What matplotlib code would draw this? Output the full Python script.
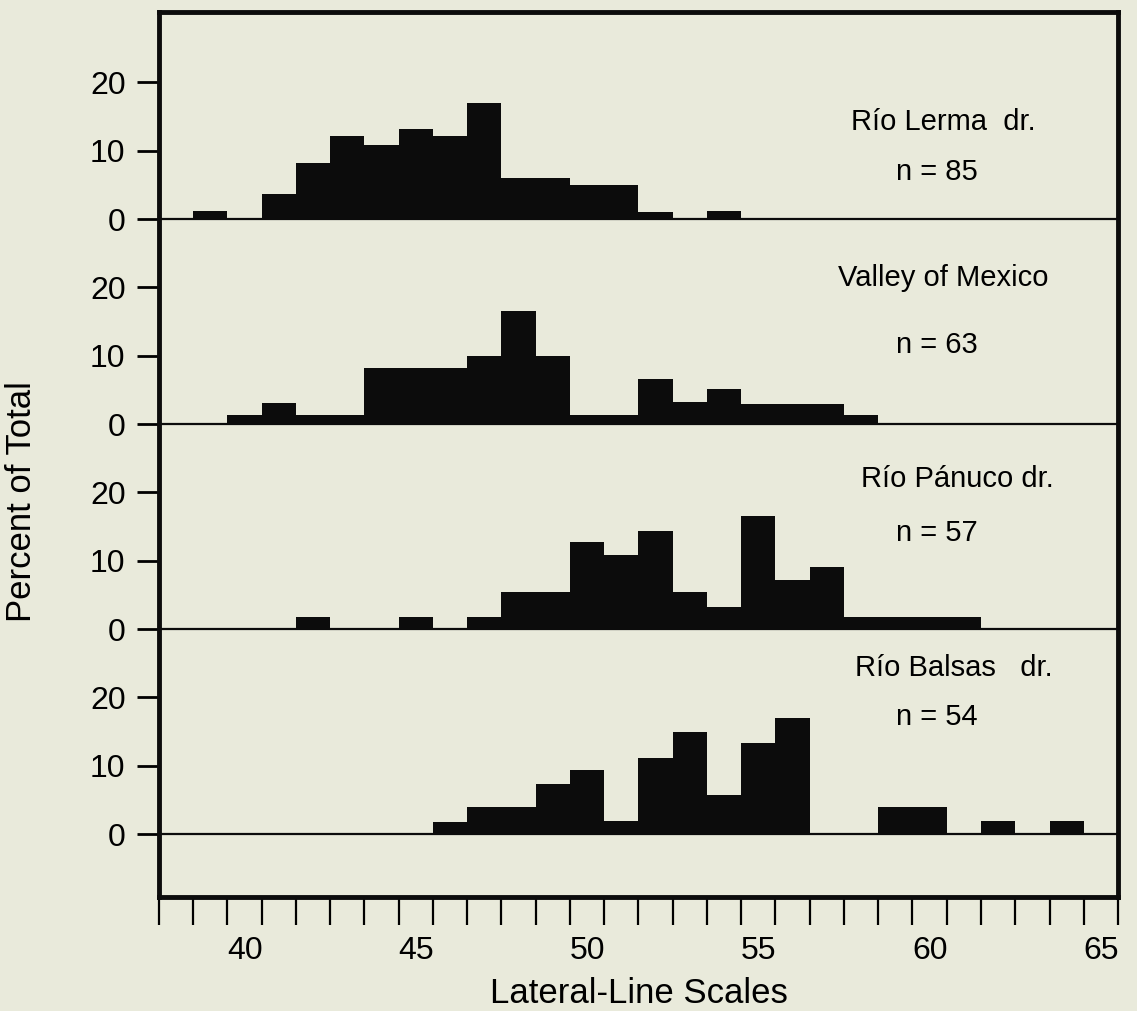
import matplotlib
matplotlib.use("Agg")
import numpy as np
import matplotlib.pyplot as plt

plt.rcParams['font.family'] = ['Liberation Sans', 'DejaVu Sans']

# -----------------------------
# Data (percent of total per lateral-line scale count)
# -----------------------------

lerma_scales = [39, 41, 42, 43, 44, 45, 46, 47, 48, 49, 50, 51, 52, 54]
lerma_pct = [1.2, 3.6, 8.2, 12.1, 10.8, 13.2, 12.1, 17.0, 6.0, 6.0, 5.0, 5.0, 1.0, 1.2]

valley_scales = [40, 41, 42, 43, 44, 45, 46, 47, 48, 49, 50, 51, 52, 53, 54, 55, 56, 57, 58]
valley_pct = [1.4, 3.1, 1.4, 1.4, 8.2, 8.2, 8.2, 10.0, 16.5, 10.0, 1.4, 1.4, 6.6, 3.2, 5.1, 3.0, 3.0, 3.0, 1.4]

panuco_scales = [42, 45, 47, 48, 49, 50, 51, 52, 53, 54, 55, 56, 57, 58, 59, 60, 61]
panuco_pct = [1.8, 1.8, 1.8, 5.4, 5.4, 12.7, 10.9, 14.4, 5.4, 3.2, 16.6, 7.2, 9.1, 1.8, 1.8, 1.8, 1.8]

balsas_scales = [46, 47, 48, 49, 50, 51, 52, 53, 54, 55, 56, 59, 60, 62, 64]
balsas_pct = [1.7, 3.9, 3.9, 7.4, 9.4, 1.9, 11.2, 15.0, 5.7, 13.3, 17.0, 4.0, 4.0, 1.9, 1.9]

panel_names = ["Río Lerma  dr.", "Valley of Mexico", "Río Pánuco dr.", "Río Balsas   dr."]
panel_n = ["n = 85", "n = 63", "n = 57", "n = 54"]

xtick_values = [40, 45, 50, 55, 60, 65]
ytick_labels = ["0", "10", "20"]

# -----------------------------
# Figure
# -----------------------------

bg = "#e9eadb"
fig = plt.figure(figsize=(11.37, 10.11), dpi=100, facecolor=bg)
ax = fig.add_axes([0.1398, 0.1128, 0.8435, 0.8753], facecolor=bg)

panels = [
    (lerma_scales, lerma_pct, 90),
    (valley_scales, valley_pct, 60),
    (panuco_scales, panuco_pct, 30),
    (balsas_scales, balsas_pct, 0),
]

for scales, pct, offset in panels:
    ax.bar(scales, pct, width=1.0, bottom=offset, color="#0c0c0c", linewidth=0)
    ax.axhline(offset, color="#0c0c0c", lw=1.6, zorder=3)

# panel text
name_pos = [(60.4, 104.2), (60.4, 81.4), (60.8, 51.9), (60.7, 24.3)]
n_pos = [(60.2, 96.9), (60.2, 71.6), (60.2, 44.0), (60.2, 17.2)]
for name, (x, y) in zip(panel_names, name_pos):
    ax.text(x, y, name, fontsize=21, ha="center", va="center")
for n, (x, y) in zip(panel_n, n_pos):
    ax.text(x, y, n, fontsize=21, ha="center", va="center")

ax.set_xlim(37.5, 65.5)
ax.set_ylim(-9.2, 120.3)

# x ticks: labels centered on bins, tick marks on bin edges
ax.set_xticks(xtick_values)
ax.set_xticklabels([str(v) for v in xtick_values], fontsize=23)
ax.set_xticks(np.arange(37.5, 65.6, 1.0), minor=True)
ax.tick_params(axis="x", which="major", length=0, pad=28)
ax.tick_params(axis="x", which="minor", length=20, width=1.6, direction="out")

# y ticks repeated per panel
yt = []
yl = []
for offset in [0, 30, 60, 90]:
    for i, lab in enumerate(ytick_labels):
        yt.append(offset + 10 * i)
        yl.append(lab)
ax.set_yticks(yt)
ax.set_yticklabels(yl, fontsize=23)
ax.tick_params(axis="y", length=16, width=2, pad=8, direction="out")

for s in ax.spines.values():
    s.set_linewidth(3.5)
    s.set_color("#0c0c0c")

ax.set_xlabel("Lateral-Line Scales", fontsize=25, labelpad=8)
fig.text(0.019, 0.504, "Percent of Total", rotation=90, fontsize=25,
         ha="center", va="center")

plt.savefig("out.png", dpi=100, facecolor=bg)
plt.close()
